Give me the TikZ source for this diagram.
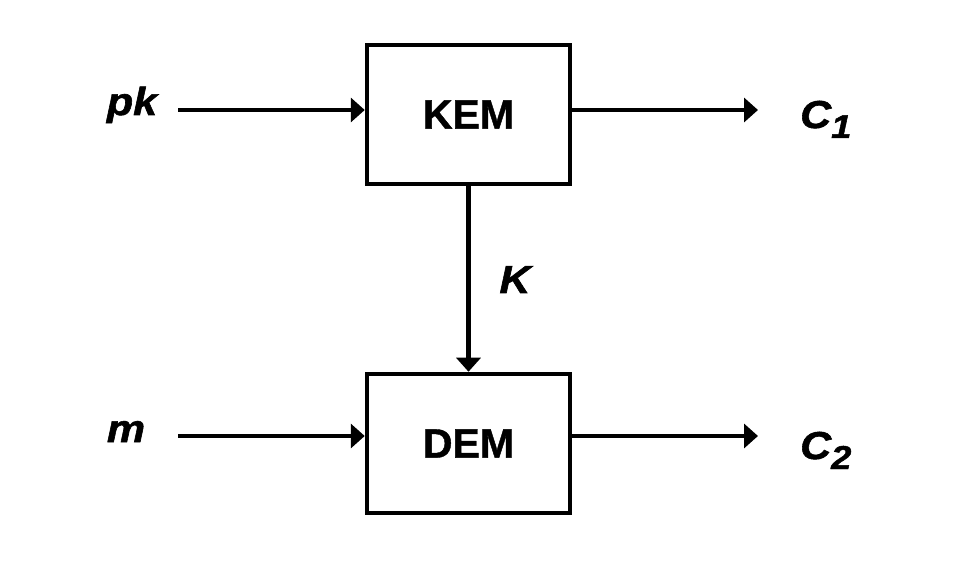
\documentclass[tikz,border=0pt]{standalone}
\usepackage{fontspec}
\setmainfont{Liberation Sans}
\newfontfamily\lblfont{Liberation Sans Bold Italic}[FakeBold=1.5, FakeStretch=1.1]
\newfontfamily\boxfont{Liberation Sans Bold}[FakeBold=1]
\usetikzlibrary{arrows.meta}
\newcommand{\lowidx}[1]{\raisebox{-10pt}{\fontsize{33}{33}\selectfont #1}}
\tikzset{
	block/.style={draw, line width=4.5pt, minimum width=203pt, minimum height=139pt, inner sep=0pt, font=\fontsize{41}{48}\boxfont},
	lbl/.style={inner sep=0pt, font=\fontsize{39}{46}\lblfont},
	flow/.style={line width=4.5pt, -{Triangle[length=14pt,width=24pt]}}
}
\begin{document}
\begin{tikzpicture}
	\useasboundingbox (0,0) rectangle (954pt,582pt);
	\node[block] (kem) at (468.5pt,467.5pt) {KEM};
	\node[block] (dem) at (468.5pt,138.5pt) {DEM};
	\node[lbl, anchor=base] (pk) at (132pt,467pt) {pk};
	\node[lbl, anchor=base] (m) at (126pt,140pt) {m};
	\node[lbl, anchor=base] (key) at (515pt,289pt) {K};
	\node[lbl, anchor=base west] (c1) at (800pt,454pt) {C\lowidx{1}};
	\node[lbl, anchor=base west] (c2) at (800pt,123pt) {C\lowidx{2}};
	\coordinate (pkin) at (178pt,472pt);
	\coordinate (min) at (178pt,146pt);
	\coordinate (c1out) at (758pt,472pt);
	\coordinate (c2out) at (758pt,146pt);
	\draw[flow] (pkin) -- (pkin -| kem.west);
	\draw[flow] (c1out -| kem.east) -- (c1out);
	\draw[flow] (kem.south) -- (dem.north);
	\draw[flow] (min) -- (min -| dem.west);
	\draw[flow] (c2out -| dem.east) -- (c2out);
\end{tikzpicture}
\end{document}
